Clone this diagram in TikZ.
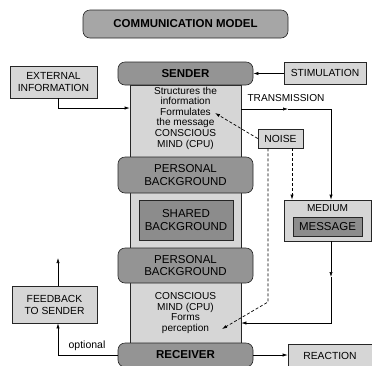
\documentclass[tikz,border=0pt]{standalone}
\usepackage{fontspec}
\setmainfont{Liberation Sans}
\usepackage{tikz}
\usetikzlibrary{arrows.meta,calc}

\definecolor{boxlight}{gray}{0.84}
\definecolor{boxdark}{gray}{0.58}
\definecolor{boxshared}{gray}{0.55}
\definecolor{boxtitle}{gray}{0.65}

\begin{document}
\begin{tikzpicture}[x=1pt, y=-1pt,
  plainbox/.style={draw=black!85, line width=0.6pt, fill=boxlight, align=center,
    inner sep=0pt, font=\fontsize{10.3}{12}\selectfont},
  roundbox/.style={plainbox, fill=boxdark, rounded corners=7pt, minimum width=135},
  headtext/.style={font=\bfseries\fontsize{11.5}{13}\selectfont},
  bigtext/.style={font=\fontsize{11.5}{12.5}\selectfont},
  coltext/.style={align=center, inner sep=0pt, font=\fontsize{10.1}{10.6}\selectfont},
  arr/.style={-{Latex[length=5pt,width=3.2pt]}, line width=0.6pt},
  noisearr/.style={arr, line width=0.7pt, dash pattern=on 3pt off 2pt}]

  \useasboundingbox (0,0) rectangle (372,365);

  % Column
  \node[plainbox, minimum width=111, minimum height=258] (column) at (185.5,214) {};

  % Nodes
  \node[plainbox, headtext, fill=boxtitle, rounded corners=7pt,
    minimum width=205, minimum height=28] (title) at (185.5,24) {COMMUNICATION MODEL};
  \node[roundbox, headtext, minimum height=23] (sender) at (185.5,73.5) {SENDER};
  \node[plainbox, minimum width=82, minimum height=22] (stim) at (325,73) {STIMULATION};
  \node[plainbox, minimum width=87, minimum height=32] (extinfo) at (53.5,82) {EXTERNAL\\INFORMATION};
  \node[coltext] (sendtext) at (185.5,118) {Structures the\\information\\Formulates\\the message\\CONSCIOUS\\MIND (CPU)};
  \node[plainbox, minimum width=45, minimum height=19] (noise) at (280.5,138.5) {NOISE};
  \node[roundbox, bigtext, minimum height=36] (pback1) at (185.5,175) {PERSONAL\\BACKGROUND};
  \node[plainbox, bigtext, fill=boxshared, minimum width=94, minimum height=40] (shared) at (186,220) {SHARED\\BACKGROUND};
  \node[plainbox, minimum width=87, minimum height=41] (medium) at (327.5,220.5) {};
  \node[coltext, anchor=north] (medlabel) at (327.5,204) {MEDIUM};
  \node[plainbox, bigtext, fill=boxshared, minimum width=69, minimum height=19] (message) at (327.5,226.5) {MESSAGE};
  \node[roundbox, bigtext, minimum height=35] (pback2) at (185.5,265.5) {PERSONAL\\BACKGROUND};
  \node[coltext] (recvtext) at (185.5,313) {CONSCIOUS\\MIND (CPU)\\Forms\\perception};
  \node[plainbox, minimum width=85, minimum height=37] (feedback) at (54.5,304.5) {FEEDBACK\\TO SENDER};
  \node[roundbox, headtext, minimum height=24] (receiver) at (185.5,355) {RECEIVER};
  \node[plainbox, minimum width=84, minimum height=24] (reaction) at (330,356) {REACTION};

  % Labels
  \node[coltext] (translabel) at (286,98) {TRANSMISSION};
  \node[coltext, font=\fontsize{10.5}{12}\selectfont] (optlabel) at (87,346) {optional};

  % Helper points
  \coordinate (extbend) at (58,108);
  \coordinate (txmid) at (288,109);
  \coordinate (txcorner) at (331,109);
  \coordinate (formtext) at (215,113);
  \coordinate (noisebend) at (268,302);
  \coordinate (perctext) at (222,329);
  \coordinate (medmid) at (331,277);
  \coordinate (medcorner) at (331,323);
  \coordinate (fbbend) at (58,355);
  \coordinate (fbtop) at (58,258);

  % Connectors
  \draw[arr] (extinfo.south -| extbend) -- (extbend) -- (column.west |- extbend);
  \draw[arr] (stim.west) -- (sender.east -| stim.west) -- (sender.east);
  \draw[arr] (column.east |- txmid) -- (txmid);
  \draw[arr] (txmid) -- (txcorner) -- (txcorner |- medium.north);
  \draw[noisearr] (noise.west) -- (formtext);
  \draw[noisearr] (noise.south -| noisebend) -- (noisebend) -- (perctext);
  \draw[noisearr] ([xshift=11.5pt]noise.south) -- ([xshift=11.5pt]noise.south |- medium.north);
  \draw[arr] (medium.south -| medmid) -- (medmid);
  \draw[arr] (medmid) -- (medcorner) -- (column.east |- medcorner);
  \draw[arr] (receiver.east) -- (reaction.west |- receiver.east);
  \draw[arr] (receiver.west) -- (fbbend) -- (feedback.south -| fbbend);
  \draw[arr] (feedback.north -| fbtop) -- (fbtop);
\end{tikzpicture}
\end{document}
